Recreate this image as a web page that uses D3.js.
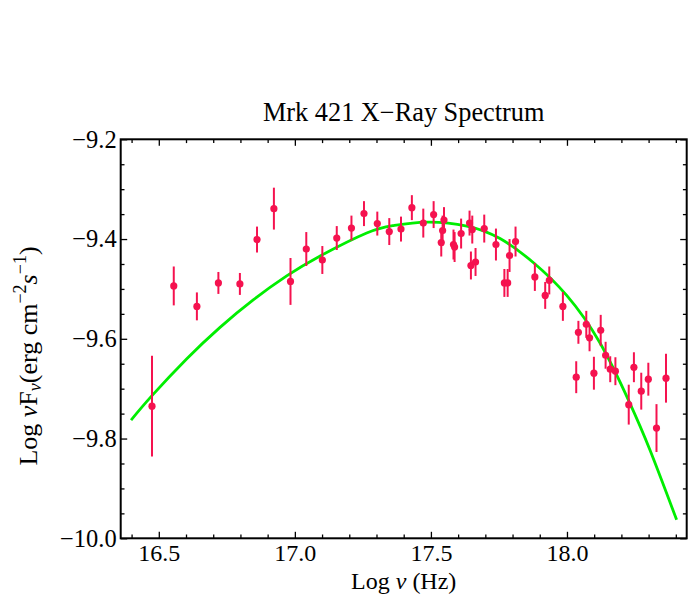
<!DOCTYPE html>
<html>
<head>
<meta charset="utf-8">
<script src="https://cdn.jsdelivr.net/npm/d3@7"></script>
<style>
  html, body { margin: 0; padding: 0; background: #fff; }
  svg { display: block; }
  text { font-family: "Liberation Serif", "DejaVu Serif", serif; fill: #000; }
</style>
</head>
<body>
<svg id="chart" width="691" height="603"></svg>
<script>
// ---- data ----
const logNu = [16.475, 16.555, 16.640, 16.719, 16.798, 16.861, 16.923, 16.984, 17.042, 17.101,
  17.154, 17.208, 17.254, 17.303, 17.347, 17.390, 17.430, 17.472, 17.510, 17.548,
  17.543, 17.538, 17.583, 17.587, 17.611, 17.642, 17.652, 17.647, 17.664, 17.696,
  17.739, 17.770, 17.782, 17.789, 17.811, 17.882, 17.920, 17.935, 17.985, 18.034,
  18.042, 18.071, 18.083, 18.099, 18.124, 18.142, 18.159, 18.178, 18.227, 18.246,
  18.273, 18.299, 18.329, 18.364];
const logNuFnu = [-9.735, -9.494, -9.535, -9.488, -9.490, -9.401, -9.339, -9.485, -9.420, -9.442,
  -9.398, -9.378, -9.349, -9.369, -9.385, -9.380, -9.337, -9.368, -9.351, -9.362,
  -9.383, -9.407, -9.411, -9.416, -9.389, -9.368, -9.381, -9.453, -9.446, -9.379,
  -9.411, -9.488, -9.488, -9.433, -9.405, -9.476, -9.513, -9.483, -9.535, -9.677,
  -9.587, -9.571, -9.598, -9.669, -9.583, -9.633, -9.661, -9.665, -9.732, -9.657,
  -9.705, -9.681, -9.779, -9.679];
const errors = [0.101, 0.039, 0.028, 0.022, 0.022, 0.026, 0.042, 0.047, 0.034, 0.028,
  0.024, 0.025, 0.025, 0.024, 0.027, 0.025, 0.025, 0.029, 0.027, 0.026,
  0.030, 0.028, 0.030, 0.030, 0.030, 0.025, 0.028, 0.028, 0.028, 0.028,
  0.032, 0.028, 0.028, 0.033, 0.030, 0.028, 0.027, 0.028, 0.029, 0.032,
  0.023, 0.027, 0.027, 0.033, 0.031, 0.027, 0.026, 0.028, 0.040, 0.030,
  0.037, 0.033, 0.048, 0.049];

// fitted model curve
const fitX = [16.398, 16.475, 16.603, 16.725, 16.847, 16.970, 17.093, 17.264, 17.362, 17.485,
  17.632, 17.754, 17.876, 17.999, 18.121, 18.226, 18.305, 18.403];
const fitY = [-9.763, -9.714, -9.640, -9.577, -9.522, -9.474, -9.434, -9.388, -9.373, -9.366,
  -9.374, -9.399, -9.447, -9.513, -9.608, -9.723, -9.823, -9.963];

const xMajor = [16.5, 17.0, 17.5, 18.0];
const xMajorLabels = ["16.5", "17.0", "17.5", "18.0"];
const xMinor = [16.4, 16.6, 16.7, 16.8, 16.9, 17.1, 17.2, 17.3, 17.4, 17.6, 17.7, 17.8, 17.9, 18.1, 18.2, 18.3, 18.4];
const yMajor = [-10.0, -9.8, -9.6, -9.4, -9.2];
const yMajorLabels = ["\u221210.0", "\u22129.8", "\u22129.6", "\u22129.4", "\u22129.2"];
const yMinor = [-9.95, -9.9, -9.85, -9.75, -9.7, -9.65, -9.55, -9.5, -9.45, -9.35, -9.3, -9.25];

const titleText = "Mrk 421 X\u2212Ray Spectrum";

// ---- layout ----
const L = 120.7, R = 686.7, T = 139.3, B = 538.3;
const svg = d3.select("#chart");

const x = d3.scaleLinear().domain([16.36, 18.44]).range([L, R]);
const y = d3.scaleLinear().domain([-10.0, -9.2]).range([B, T]);

const pointColor = "#f5124f";
const fitColor = "#00ee00";

// fit curve
const line = d3.line().x(d => x(d[0])).y(d => y(d[1])).curve(d3.curveNatural);
svg.append("path")
  .datum(fitX.map((v, i) => [v, fitY[i]]))
  .attr("d", line)
  .attr("fill", "none")
  .attr("stroke", fitColor)
  .attr("stroke-width", 2.8);

// error bars and points
const pts = logNu.map((v, i) => ({ x: v, y: logNuFnu[i], e: errors[i] }));
const g = svg.append("g");
g.selectAll("line.err").data(pts).enter().append("line")
  .attr("x1", d => x(d.x)).attr("x2", d => x(d.x))
  .attr("y1", d => y(d.y - d.e)).attr("y2", d => y(d.y + d.e))
  .attr("stroke", pointColor).attr("stroke-width", 2);
g.selectAll("circle").data(pts).enter().append("circle")
  .attr("cx", d => x(d.x)).attr("cy", d => y(d.y)).attr("r", 3.6)
  .attr("fill", pointColor);

// axes (ticks inward, on all four sides)
function styleAxis(sel) {
  sel.select(".domain").remove();
  sel.selectAll(".tick line").attr("stroke", "#000").attr("stroke-width", 1.3);
}
const majorLen = 6.5, minorLen = 3.8;

svg.append("g").attr("transform", `translate(0,${B})`)
  .call(d3.axisBottom(x).tickValues(xMajor).tickSize(-majorLen).tickPadding(6)
    .tickFormat((d, i) => xMajorLabels[i]))
  .call(styleAxis)
  .call(s => s.selectAll("text").attr("font-size", 24).attr("font-family", "Liberation Serif").attr("dy", "0.71em"));
svg.append("g").attr("transform", `translate(0,${B})`)
  .call(d3.axisBottom(x).tickValues(xMinor).tickSize(-minorLen).tickFormat(""))
  .call(styleAxis);
svg.append("g").attr("transform", `translate(0,${T})`)
  .call(d3.axisTop(x).tickValues(xMajor).tickSize(-majorLen).tickFormat(""))
  .call(styleAxis);
svg.append("g").attr("transform", `translate(0,${T})`)
  .call(d3.axisTop(x).tickValues(xMinor).tickSize(-minorLen).tickFormat(""))
  .call(styleAxis);

svg.append("g").attr("transform", `translate(${L},0)`)
  .call(d3.axisLeft(y).tickValues(yMajor).tickSize(-majorLen).tickPadding(4)
    .tickFormat((d, i) => yMajorLabels[i]))
  .call(styleAxis)
  .call(s => s.selectAll("text").attr("font-size", 24.5).attr("font-family", "Liberation Serif"));
svg.append("g").attr("transform", `translate(${L},0)`)
  .call(d3.axisLeft(y).tickValues(yMinor).tickSize(-minorLen).tickFormat(""))
  .call(styleAxis);
svg.append("g").attr("transform", `translate(${R},0)`)
  .call(d3.axisRight(y).tickValues(yMajor).tickSize(-majorLen).tickFormat(""))
  .call(styleAxis);
svg.append("g").attr("transform", `translate(${R},0)`)
  .call(d3.axisRight(y).tickValues(yMinor).tickSize(-minorLen).tickFormat(""))
  .call(styleAxis);

// frame
svg.append("rect")
  .attr("x", L).attr("y", T).attr("width", R - L).attr("height", B - T)
  .attr("fill", "none").attr("stroke", "#000").attr("stroke-width", 2);

// title
svg.append("text")
  .attr("x", (L + R) / 2).attr("y", 121)
  .attr("text-anchor", "middle").attr("font-size", 26.3)
  .text(titleText);

// x label
const xl = svg.append("text")
  .attr("x", (L + R) / 2).attr("y", 589)
  .attr("text-anchor", "middle").attr("font-size", 24);
xl.append("tspan").text("Log ");
xl.append("tspan").attr("font-style", "italic").text("\u03bd");
xl.append("tspan").text(" (Hz)");

// y label
const yl = svg.append("text")
  .attr("transform", `translate(37,${356}) rotate(-90)`)
  .attr("text-anchor", "middle").attr("font-size", 26);
yl.append("tspan").text("Log ");
yl.append("tspan").attr("font-style", "italic").text("\u03bd");
yl.append("tspan").text("F");
yl.append("tspan").attr("font-size", 18).attr("dy", 4).attr("font-style", "italic").text("\u03bd");
yl.append("tspan").attr("dy", -4).text("(erg cm");
yl.append("tspan").attr("font-size", 18).attr("dy", -11).text("\u22122");
yl.append("tspan").attr("dy", 11).attr("font-style", "italic").text("s");
yl.append("tspan").attr("font-size", 18).attr("dy", -11).text("\u22121");
yl.append("tspan").attr("dy", 11).text(")");
</script>
</body>
</html>
